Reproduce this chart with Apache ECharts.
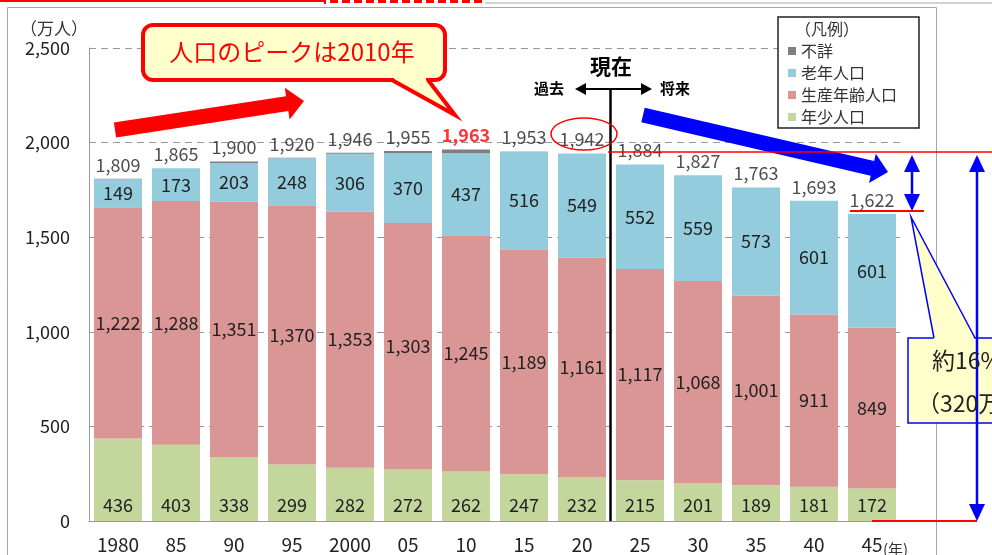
<!DOCTYPE html>
<html>
<head>
<meta charset="utf-8">
<title>人口の推移</title>
<script src="https://cdn.jsdelivr.net/npm/echarts@6/dist/echarts.min.js"></script>
<style>
html,body{margin:0;padding:0;background:#fff;}
#chart{width:992px;height:555px;}
</style>
</head>
<body>
<div id="chart"></div>
<script>
// 年次（横軸）
var years = ['1980','85','90','95','2000','05','10','15','20','25','30','35','40','45'];
// 万人
var youngPop   = [436, 403, 338, 299, 282, 272, 262, 247, 232, 215, 201, 189, 181, 172];
var workingPop = [1222, 1288, 1351, 1370, 1353, 1303, 1245, 1189, 1161, 1117, 1068, 1001, 911, 849];
var elderlyPop = [149, 173, 203, 248, 306, 370, 437, 516, 549, 552, 559, 573, 601, 601];
var unknownPop = [2, 1, 8, 3, 5, 10, 19, 1, 0, 0, 0, 0, 0, 0];
var totalPop   = [1809, 1865, 1900, 1920, 1946, 1955, 1963, 1953, 1942, 1884, 1827, 1763, 1693, 1622];
var peakIndex = 6;
var yMin = 0, yMax = 2500, yStep = 500;

var FONT = '"Noto Sans CJK JP", "Noto Sans", sans-serif';

init();

function init(){
	var myChart = echarts.init(document.getElementById('chart'));
	myChart.setOption(buildOption());
}

/**
 * 矢印（多角形）の頂点
 */
function arrowPoints(x1, y1, x2, y2, shaft, headW, headL){
	var dx = x2 - x1, dy = y2 - y1;
	var len = Math.sqrt(dx*dx + dy*dy);
	var ux = dx/len, uy = dy/len, nx = -uy, ny = ux;
	var bx = x2 - ux*headL, by = y2 - uy*headL;
	return [
		[x1 + nx*shaft/2, y1 + ny*shaft/2],
		[bx + nx*shaft/2, by + ny*shaft/2],
		[bx + nx*headW/2, by + ny*headW/2],
		[x2, y2],
		[bx - nx*headW/2, by - ny*headW/2],
		[bx - nx*shaft/2, by - ny*shaft/2],
		[x1 - nx*shaft/2, y1 - ny*shaft/2]
	];
}

// 両矢印（縦・横）
function doubleArrow(x1, y1, x2, y2, color, lw, headW, headL, z){
	var dx = x2 - x1, dy = y2 - y1;
	var len = Math.sqrt(dx*dx + dy*dy);
	var ux = dx/len, uy = dy/len, nx = -uy, ny = ux;
	return [
		{type:'line', z:z, shape:{x1:x1 + ux*headL, y1:y1 + uy*headL, x2:x2 - ux*headL, y2:y2 - uy*headL}, style:{stroke:color, lineWidth:lw}},
		{type:'polygon', z:z, shape:{points:[[x1, y1], [x1 + ux*headL + nx*headW/2, y1 + uy*headL + ny*headW/2], [x1 + ux*headL - nx*headW/2, y1 + uy*headL - ny*headW/2]]}, style:{fill:color}},
		{type:'polygon', z:z, shape:{points:[[x2, y2], [x2 - ux*headL + nx*headW/2, y2 - uy*headL + ny*headW/2], [x2 - ux*headL - nx*headW/2, y2 - uy*headL - ny*headW/2]]}, style:{fill:color}}
	];
}

function txt(x, y, text, size, color, weight, align){
	return {
		type:'text', x:x, y:y, z:20,
		style:{text:text, fill:color, font:(weight || 'normal') + ' ' + size + 'px ' + FONT,
			textAlign:align || 'left', textVerticalAlign:'middle', align:align || 'left', verticalAlign:'middle'}
	};
}

function line(x1, y1, x2, y2, color, lw, z, dash){
	return {type:'line', z:z, shape:{x1:x1, y1:y1, x2:x2, y2:y2},
		style:{stroke:color, lineWidth:lw, lineDash:dash || null}};
}

function buildGraphic(){
	var g = [];
	// 外枠・上部の線
	g.push({type:'rect', z:0, shape:{x:7.5, y:7.5, width:929, height:560}, style:{fill:null, stroke:'#a6a6a6', lineWidth:1}});
	g.push(line(0, 1, 325, 1, '#ff0000', 2, 1));
	g.push(line(325, 0, 325, 4, '#ff0000', 2, 1));
	g.push(line(330, 1.5, 485, 1.5, '#ff0000', 3, 1, [8, 4]));
	g.push(line(485, 3, 992, 3, '#a6a6a6', 1, 1));

	// 単位・年
	g.push(txt(20, 29, '（万人）', 17, '#333'));
	g.push(txt(883, 549, '(年)', 15, '#333'));

	// 凡例の枠
	g.push({type:'rect', z:3, shape:{x:778, y:17, width:141, height:111}, style:{fill:'#fff', stroke:'#222', lineWidth:1.5}});
	g.push(txt(795, 29, '（凡例）', 16, '#333'));

	// 吹き出し：人口のピーク
	g.push({type:'rect', z:5, shape:{x:143, y:25, width:302, height:55, r:10}, style:{fill:'#ffffcc', stroke:'#ff0000', lineWidth:4}});
	g.push({type:'polygon', z:6, shape:{points:[[394, 76], [394, 80], [455, 115], [426, 80], [426, 76]]}, style:{fill:'#ffffcc'}});
	g.push({type:'polyline', z:7, shape:{points:[[392, 80], [455, 115], [428, 80]]}, style:{stroke:'#ff0000', lineWidth:4, fill:null}});
	g.push(txt(292, 52, '人口のピークは2010年', 24, '#ff0000', 'normal', 'center'));

	// 赤・青の太矢印
	g.push({type:'polygon', z:8, shape:{points:arrowPoints(115, 130, 304, 101, 15, 32, 17)}, style:{fill:'#ff0000'}});
	g.push({type:'polygon', z:8, shape:{points:arrowPoints(643, 115, 888, 172, 15, 30, 16)}, style:{fill:'#0000ff'}});

	// 現在
	g.push(line(610.5, 88, 610.5, 521, '#000', 2.5, 9));
	g = g.concat(doubleArrow(575, 89, 652, 89, '#000', 2, 12, 11, 9));
	g.push(txt(611, 66, '現在', 21, '#000', 'bold', 'center'));
	g.push(txt(549, 88, '過去', 15, '#000', 'bold', 'center'));
	g.push(txt(675, 88, '将来', 15, '#000', 'bold', 'center'));
	g.push({type:'ellipse', z:9, shape:{cx:584, cy:134, rx:33, ry:16}, style:{fill:null, stroke:'#ff0000', lineWidth:1.5}});

	// 右側の減少幅
	g.push(line(608, 152, 992, 152, '#ff0000', 1.5, 9));
	g.push(line(850, 211, 924, 211, '#ff0000', 2, 9));
	g.push(line(872, 521, 977, 521, '#ff0000', 2, 9));
	g = g.concat(doubleArrow(912, 155, 912, 211, '#0000ff', 2.5, 16, 17, 9));

	// 吹き出し：約16%
	g.push({type:'rect', z:10, shape:{x:908, y:338, width:120, height:85}, style:{fill:'#ffffcc', stroke:'#0000ff', lineWidth:1.5}});
	g.push({type:'polygon', z:11, shape:{points:[[934, 340], [911, 217], [975, 340]]}, style:{fill:'#ffffcc'}});
	g.push({type:'polyline', z:12, shape:{points:[[934, 338], [911, 217], [975, 338]]}, style:{stroke:'#0000ff', lineWidth:1.5, fill:null}});
	g.push(txt(932, 360, '約16%', 23, '#222'));
	g.push(txt(917, 403, '（320万人減）', 23, '#222'));
	g = g.concat(doubleArrow(977, 155, 977, 521, '#0000ff', 2.5, 16, 17, 13));
	return g;
}

function commaLabel(p){
	return echarts.format.addCommas(p.value);
}

function buildOption(){
	var labelStyle = {show:true, color:'#222', fontSize:18, fontFamily:FONT, formatter:commaLabel};

	var totalData = [];
	for (var i = 0; i < totalPop.length; i++) {
		if(i == peakIndex){
			totalData.push({value:totalPop[i], label:{color:'#ff0000', fontWeight:'bold'}});
		}else{
			totalData.push(totalPop[i]);
		}
	}

	var option = {
		animation:false,
		textStyle:{fontFamily:FONT},
		grid:{left:89, right:91, top:48, bottom:34},
		legend:{
			data:['不詳','老年人口','生産年齢人口','年少人口'],
			orient:'vertical', left:788, top:43, padding:0,
			icon:'rect', itemWidth:8, itemHeight:8, itemGap:6,
			textStyle:{fontSize:16, color:'#333', lineHeight:16, fontFamily:FONT}
		},
		xAxis:{
			type:'category', data:years,
			axisTick:{show:false},
			axisLine:{lineStyle:{color:'#999'}},
			axisLabel:{fontSize:19, color:'#222', margin:14}
		},
		yAxis:{
			type:'value', min:yMin, max:yMax, interval:yStep,
			axisLine:{show:true, lineStyle:{color:'#999'}},
			axisTick:{show:false},
			axisLabel:{fontSize:18, color:'#222', margin:19},
			splitLine:{lineStyle:{color:'#999', type:[7, 5]}}
		},
		series:[
			{name:'年少人口', type:'bar', stack:'pop', barWidth:48, data:youngPop,
				itemStyle:{color:'#c3d69b'},
				label:Object.assign({position:'insideBottom', distance:7}, labelStyle)},
			{name:'生産年齢人口', type:'bar', stack:'pop', data:workingPop,
				itemStyle:{color:'#d99694'},
				label:Object.assign({position:'inside'}, labelStyle)},
			{name:'老年人口', type:'bar', stack:'pop', data:elderlyPop,
				itemStyle:{color:'#93cddd'},
				label:Object.assign({position:'inside'}, labelStyle)},
			{name:'不詳', type:'bar', stack:'pop', data:unknownPop,
				itemStyle:{color:'#7f7f7f'}},
			{name:'総数', type:'scatter', data:totalData, symbolSize:0, z:5,
				label:Object.assign({position:'top', distance:5}, labelStyle)}
		],
		graphic:buildGraphic()
	};
	return option;
}
</script>
</body>
</html>
